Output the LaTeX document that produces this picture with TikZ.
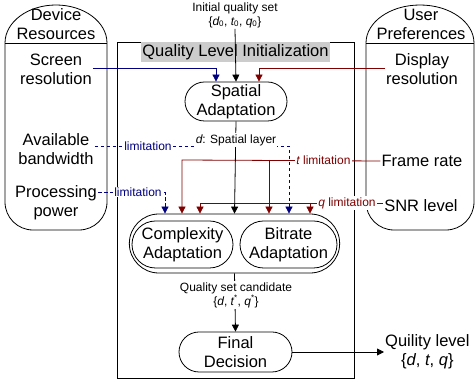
\documentclass[tikz,border=0pt]{standalone}
\usepackage{fontspec}
\setmainfont{Liberation Sans}
\usetikzlibrary{arrows.meta,shapes.misc}
\definecolor{navyc}{RGB}{0,0,128}
\definecolor{redc}{RGB}{128,0,0}
\definecolor{titlegray}{RGB}{204,204,204}
\tikzset{
  big/.style={font=\fontsize{16.5}{19}\selectfont, align=center, inner sep=1pt},
  small/.style={font=\fontsize{12}{14}\selectfont, align=center, inner sep=1pt},
  shp/.style={draw, line width=0.8pt},
  stad/.style={draw, line width=0.8pt, rounded rectangle, big, inner sep=0pt},
  tip/.style={-{Triangle[width=7pt,length=7pt]}},
  blk/.style={line width=0.8pt, black},
  bline/.style={line width=0.8pt, navyc},
  bdash/.style={line width=0.8pt, navyc, dash pattern=on 3.5pt off 2.5pt},
  rline/.style={line width=0.8pt, redc},
  lab/.style={small, fill=white, inner sep=1pt},
}
\begin{document}
\begin{tikzpicture}[x=1pt,y=-1pt]
\useasboundingbox (0,0) rectangle (475,387);
% side shapes
\draw[shp] (5,43) arc[start angle=180,end angle=0,x radius=51pt,y radius=38pt]
  [rounded corners=28pt] -- (107,230) -- (5,230) [sharp corners] -- cycle;
\draw[shp] (5,43) -- (107,43);
\draw[shp] (366,43) arc[start angle=180,end angle=0,x radius=54pt,y radius=38pt]
  [rounded corners=28pt] -- (474,230) -- (366,230) [sharp corners] -- cycle;
\draw[shp] (366,43) -- (474,43);
% central frame
\draw[gray, line width=1pt] (118,379) -- (355,379);
\draw[shp] (117,42) rectangle (354,378);
\node[big, fill=titlegray, minimum width=189pt, minimum height=20pt] (title) at (235.5,52) {Quality Level Initialization};
% texts in side shapes
\node[big] (dev) at (56,24) {Device\\Resources};
\node[big] (scr) at (56,69.5) {Screen\\resolution};
\node[big] (bw) at (56,149.5) {Available\\bandwidth};
\node[big] (pp) at (56,202.5) {Processing\\power};
\node[big] (usr) at (421,24) {User\\Preferences};
\node[big] (disp) at (422,69.5) {Display\\resolution};
\node[big] (fr) at (422,161) {Frame rate};
\node[big] (snr) at (421,206) {SNR level};
% process nodes
\node[small] (init) at (235,15) {Initial quality set\\\{{\itshape d}\textsubscript{0}, {\itshape t}\textsubscript{0}, {\itshape q}\textsubscript{0}\}};
\node[stad, minimum width=102pt, minimum height=39pt] (sp) at (236,101.5) {Spatial\\Adaptation};
\node[draw, line width=0.8pt, rounded rectangle, minimum width=217pt, minimum height=59pt] (outer) at (234.5,243.5) {};
\node[stad, minimum width=101pt, minimum height=47pt] (cx) at (182.5,244.5) {Complexity\\Adaptation};
\node[stad, minimum width=97pt, minimum height=47pt] (br) at (288.5,244.5) {Bitrate\\Adaptation};
\node[stad, minimum width=113pt, minimum height=40pt] (fd) at (235.5,352) {Final\\Decision};
\node[big, anchor=west] (ql) at (384,352) {Quility level\\\{{\itshape d}, {\itshape t}, {\itshape q}\}};
% coordinates
\coordinate (bwc) at (289,146);
\coordinate (ppc) at (165,192);
\coordinate (tc1) at (182,160);
\coordinate (tc2) at (269,160);
\coordinate (qc1) at (200,203);
\coordinate (qc2) at (310,203);
% connectors
\draw[blk, tip] (init.south) -- (sp.north);
\draw[bline, tip] ([yshift=1.5pt]scr.east) -| ([xshift=-20pt]sp.north);
\draw[rline, tip] ([yshift=1.5pt]disp.west) -| ([xshift=23pt]sp.north);
\draw[bdash, tip] ([yshift=3.5pt]bw.east) -- (bwc) -- (bwc |- outer.north);
\draw[bdash, tip] ([yshift=10.5pt]pp.east) -- (ppc) -- (ppc |- outer.north);
\draw[rline, tip] (fr.west) -- (tc1) -- (tc1 |- outer.north);
\draw[rline, tip] (tc2) -- (tc2 |- outer.north);
\draw[rline, tip] ([yshift=3pt]snr.west) -- (qc1) -- (qc1 |- outer.north);
\draw[rline, tip] (qc2) -- (qc2 |- outer.north);
\draw[blk, tip] (sp.south) -- (outer.north);
\draw[blk, tip] (outer.south) -- (fd.north);
\draw[blk, tip] (fd.east) -- (ql.west);
% labels
\node[lab] (dl) at (236,140) {{\itshape d}: Spatial layer};
\node[lab, text=navyc] (l1) at (148,146) {limitation};
\node[lab, text=navyc] (l2) at (138,192) {limitation};
\node[lab, text=redc] (l3) at (323.5,160) {{\itshape t} limitation};
\node[lab, text=redc] (l4) at (347,203) {{\itshape q} limitation};
\node[lab] (qs) at (236,295) {Quality set candidate\\\{{\itshape d}, {\itshape t}\textsuperscript{*}, {\itshape q}\textsuperscript{*}\}};
\end{tikzpicture}
\end{document}
